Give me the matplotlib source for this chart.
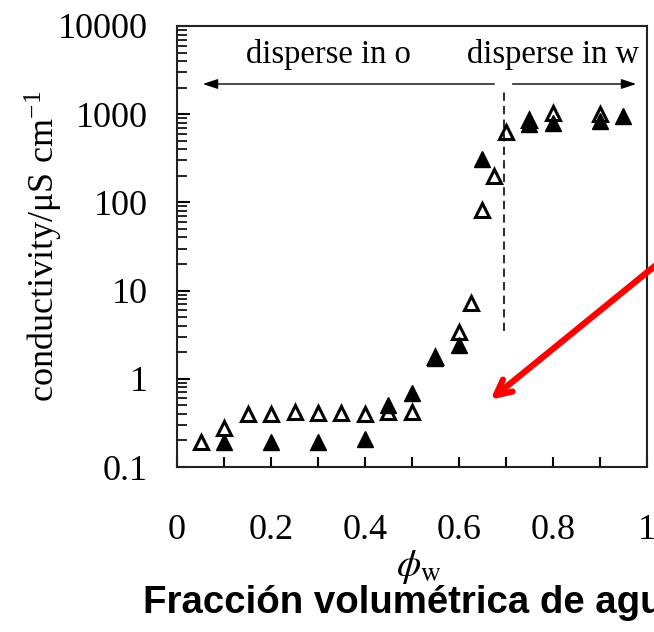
import matplotlib
matplotlib.use("Agg")
import matplotlib.pyplot as plt
from matplotlib.ticker import FixedLocator, LogLocator, NullFormatter, FixedFormatter

# ---- data ----
open_x = [0.05, 0.10, 0.15, 0.20, 0.25, 0.30, 0.35, 0.40, 0.45, 0.50,
          0.55, 0.60, 0.625, 0.65, 0.675, 0.70, 0.75, 0.80, 0.90]
open_y = [0.19, 0.28, 0.40, 0.40, 0.42, 0.41, 0.41, 0.40, 0.42, 0.42,
          1.75, 3.4, 7.3, 83, 198, 630, 850, 1020, 1000]
filled_x = [0.10, 0.20, 0.30, 0.40, 0.45, 0.50, 0.55, 0.60, 0.65, 0.75, 0.80, 0.90, 0.95]
filled_y = [0.19, 0.19, 0.19, 0.21, 0.50, 0.69, 1.7, 2.4, 310, 770, 800, 830, 950]

x_ticks = [0, 0.2, 0.4, 0.6, 0.8, 1.0]
x_ticklabels = ["0", "0.2", "0.4", "0.6", "0.8", "1"]
y_ticks = [0.1, 1, 10, 100, 1000, 10000]
y_ticklabels = ["0.1", "1", "10", "100", "1000", "10000"]

transition_x = 0.695
label_o = "disperse in o"
label_w = "disperse in w"
caption = "Fracción volumétrica de agua"

serif = "Liberation Serif"
plt.rcParams["mathtext.fontset"] = "stix"

fig = plt.figure(figsize=(6.54, 6.32), dpi=100)
ax = fig.add_axes([177 / 654, 1 - 467 / 632, (647 - 177) / 654, (467 - 26) / 632])

ax.plot(filled_x, filled_y, linestyle="none", marker="^", markersize=11,
        color="black", zorder=3)
ax.plot(open_x, open_y, linestyle="none", marker="^", markersize=10.5,
        markerfacecolor="none", markeredgecolor="black", markeredgewidth=2.2, zorder=4)

ax.set_yscale("log")
ax.set_xlim(0, 1.0)
ax.set_ylim(0.1, 10000)

ax.xaxis.set_major_locator(FixedLocator(x_ticks))
ax.xaxis.set_major_formatter(FixedFormatter(x_ticklabels))
ax.xaxis.set_minor_locator(FixedLocator([0.1, 0.3, 0.5, 0.7, 0.9]))
ax.yaxis.set_major_locator(FixedLocator(y_ticks))
ax.yaxis.set_major_formatter(FixedFormatter(y_ticklabels))
ax.yaxis.set_minor_locator(LogLocator(base=10, subs=range(2, 10)))
ax.yaxis.set_minor_formatter(NullFormatter())

ax.tick_params(axis="both", which="both", direction="in", top=False, right=False,
               color="black")
ax.tick_params(axis="x", which="both", length=7, width=1.5, pad=34,
               labelsize=26)
ax.tick_params(axis="y", which="major", length=9, width=1.5, pad=21, labelsize=26)
ax.tick_params(axis="y", which="minor", length=7, width=1.2)
for lab in ax.get_xticklabels() + ax.get_yticklabels():
    lab.set_fontfamily(serif)

for s in ax.spines.values():
    s.set_linewidth(1.5)
    s.set_color("#222222")

ax.set_ylabel(r"conductivity/μS cm$^{\mathregular{-1}}$", fontfamily=serif,
              fontsize=26)
ax.yaxis.set_label_coords(-0.24, 0.5)
ax.set_xlabel(r"$\phi_{\mathrm{w}}$", fontsize=28)
ax.xaxis.set_label_coords(0.514, -0.183)

# transition dashed line
ax.plot([transition_x, transition_x], [3.5, 1800], linestyle=(0, (4, 2.5)),
        color="#333333", linewidth=1.5)

# arrows
arrow_y = 2200
ax.annotate("", xy=(0.055, arrow_y), xytext=(0.675, arrow_y),
            arrowprops=dict(arrowstyle="-|>,head_length=0.9,head_width=0.3",
                            color="black", lw=1.0, shrinkA=0, shrinkB=0))
ax.annotate("", xy=(0.977, arrow_y), xytext=(0.714, arrow_y),
            arrowprops=dict(arrowstyle="-|>,head_length=0.9,head_width=0.3",
                            color="black", lw=1.0, shrinkA=0, shrinkB=0))
ax.text(0.323, 3800, label_o, fontfamily=serif, fontsize=23.5,
        ha="center", va="baseline")
ax.text(0.80, 3800, label_w, fontfamily=serif, fontsize=23.5,
        ha="center", va="baseline")

# red pointer arrow
ax.annotate("", xy=(0.667, 0.58), xytext=(1.04, 24),
            arrowprops=dict(arrowstyle="->,head_length=1.1,head_width=0.55",
                            color="#ff0000", lw=4.5, shrinkA=0, shrinkB=0),
            annotation_clip=False)

fig.text(143 / 654, 1 - 613 / 632, caption, fontfamily="Liberation Sans",
         fontweight="bold", fontsize=27.6, ha="left", va="baseline")

fig.savefig("out.png", dpi=100)
